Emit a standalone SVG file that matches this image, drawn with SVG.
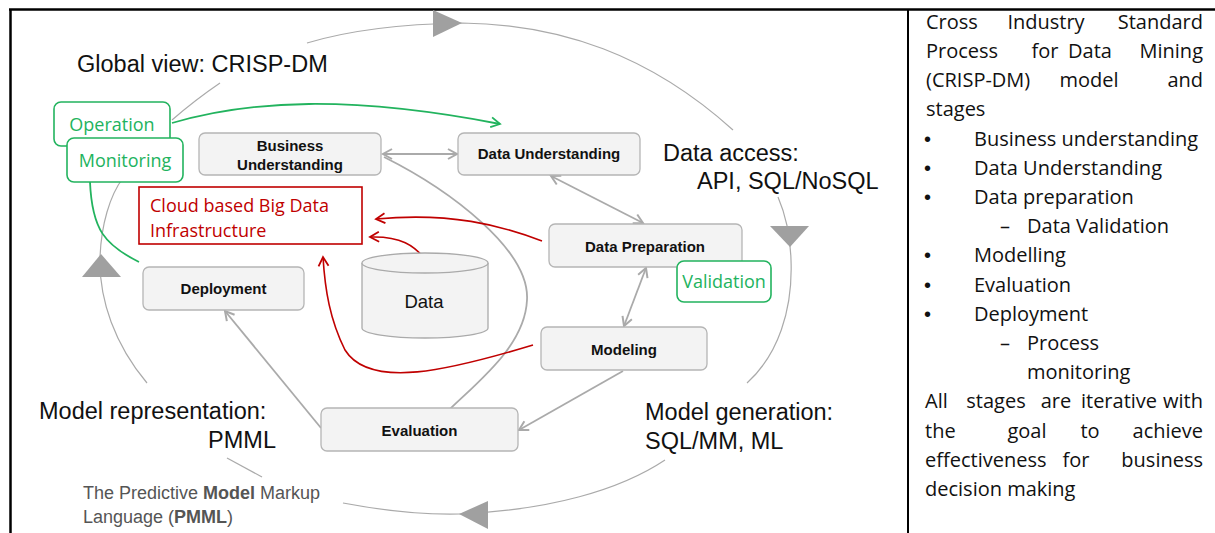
<svg xmlns="http://www.w3.org/2000/svg" width="1215" height="533" viewBox="0 0 1215 533">
<style>
.box{fill:#f3f3f3;stroke:#b5b5b5;stroke-width:1.3}
.bl{font-family:"Liberation Sans",Arial,sans-serif;font-weight:bold;font-size:15px;fill:#111;text-anchor:middle}
.big{font-family:"Liberation Sans",Arial,sans-serif;font-size:23.5px;fill:#111}
.gbox{fill:#fff;stroke:#22b35e;stroke-width:1.6}
.gt{font-family:"Open Sans",Lato,sans-serif;font-size:18px;fill:#22b35e;text-anchor:middle}
.rt{font-family:"Open Sans",Lato,sans-serif;font-size:18px;fill:#c00000}
.gc{fill:none;stroke:#aaa;stroke-width:1.8}
.arc{fill:none;stroke:#aaa;stroke-width:1.2}
.tri{fill:#a0a0a0}
.grn{fill:none;stroke:#22b35e;stroke-width:1.8}
.red{fill:none;stroke:#c00000;stroke-width:1.6}
.side{font-family:"Open Sans",Lato,sans-serif;font-size:20px;fill:#111}
.m{text-anchor:middle}
.e{text-anchor:end}
.bu{font-family:"Liberation Sans",Arial,sans-serif;font-size:20px;fill:#111}
</style>
<defs>
<marker id="ag" markerUnits="userSpaceOnUse" markerWidth="14" markerHeight="14" refX="10" refY="6" orient="auto-start-reverse" viewBox="0 0 14 12"><path d="M1,1 L10,6 L1,11" fill="none" stroke="#aaa" stroke-width="2"/></marker>
<marker id="agr" markerUnits="userSpaceOnUse" markerWidth="14" markerHeight="14" refX="10" refY="6" orient="auto" viewBox="0 0 14 12"><path d="M1,1 L10,6 L1,11" fill="none" stroke="#22b35e" stroke-width="1.8"/></marker>
<marker id="ar" markerUnits="userSpaceOnUse" markerWidth="14" markerHeight="14" refX="10" refY="6" orient="auto" viewBox="0 0 14 12"><path d="M1,1 L10,6 L1,11" fill="none" stroke="#c00000" stroke-width="1.8"/></marker>
</defs>
<rect width="1215" height="533" fill="#fff"/>
<g id="frame" stroke="#000" fill="none">
<line x1="9" y1="9.5" x2="1215" y2="9.5" stroke-width="2.5"/>
<line x1="10.5" y1="9" x2="10.5" y2="533" stroke-width="2.5"/>
<line x1="908" y1="9" x2="908" y2="533" stroke-width="2"/>
</g>
<g id="connectors">
<path class="arc" d="M307 43 C350 30, 400 24, 462 23 C560 24, 650 55, 733 130"/>
<path class="arc" d="M778 197 Q790 225 791 260 C793 310, 778 355, 747 383"/>
<path class="arc" d="M665 460 C620 490, 550 510, 460 514 C420 515, 380 510, 343 503"/>
<path class="arc" d="M147 383 C115 345, 99 300, 100 258 C101 225, 110 195, 123 178"/>
<path class="arc" d="M172 120 Q195 100 220 83"/>
<path class="arc" d="M227 458 L262 477"/>
<polygon class="tri" points="433,10 433,37 462,23"/>
<polygon class="tri" points="770,226 809,226 790,247"/>
<polygon class="tri" points="488,501 488,529 459,514"/>
<polygon class="tri" points="82,277 121,277 101,254"/>
<line class="gc" x1="383" y1="154" x2="457" y2="154" marker-start="url(#ag)" marker-end="url(#ag)"/>
<line class="gc" x1="551" y1="176" x2="643" y2="223" marker-start="url(#ag)" marker-end="url(#ag)"/>
<line class="gc" x1="646" y1="268" x2="624" y2="326" marker-start="url(#ag)" marker-end="url(#ag)"/>
<line class="gc" x1="623" y1="371" x2="519" y2="430" marker-end="url(#ag)"/>
<line class="gc" x1="321" y1="428" x2="225" y2="311" marker-end="url(#ag)"/>
<path class="gc" d="M450 409 C480 380, 525 345, 527 300 C530 250, 450 190, 384 157"/>
<path class="grn" d="M172 123 C250 100, 350 95, 500 124" marker-end="url(#agr)"/>
<path class="grn" d="M90 182 C92 230, 105 245, 139 262"/>
<path class="red" d="M542 241 C500 225, 450 212, 376 219" marker-end="url(#ar)"/>
<path class="red" d="M427 262 C415 245, 400 236, 370 237" marker-end="url(#ar)"/>
<path class="red" d="M533 345 C450 370, 370 390, 345 350 C330 320, 325 290, 323 257" marker-end="url(#ar)"/>
</g>
<g id="global-view"><text class="big" x="77" y="72">Global view: CRISP-DM</text></g>
<g id="data-access"><text class="big" x="663" y="161">Data access:</text><text class="big" x="697" y="189">API, SQL/NoSQL</text></g>
<g id="model-generation"><text class="big" x="645" y="420">Model generation:</text><text class="big" x="645" y="449">SQL/MM, ML</text></g>
<g id="model-representation"><text class="big" x="39" y="419">Model representation:</text><text class="big" x="276" y="448" text-anchor="end">PMML</text></g>
<g id="pmml-note" font-family="Liberation Sans, Arial, sans-serif" font-size="18" fill="#555">
<text x="83" y="499">The Predictive <tspan font-weight="bold">Model</tspan> Markup</text>
<text x="83" y="523">Language (<tspan font-weight="bold">PMML</tspan>)</text>
</g>
<g id="operation"><rect class="gbox" x="54" y="102" width="116" height="44" rx="7"/><text class="gt" x="112" y="131">Operation</text></g>
<g id="monitoring"><rect class="gbox" x="67" y="138" width="116" height="44" rx="7"/><text class="gt" x="125" y="167">Monitoring</text></g>
<g id="business-understanding"><rect class="box" x="199" y="133" width="182" height="42" rx="6"/><text class="bl" x="290" y="151">Business</text><text class="bl" x="290" y="170">Understanding</text></g>
<g id="data-understanding"><rect class="box" x="458" y="133" width="182" height="42" rx="6"/><text class="bl" x="549" y="159">Data Understanding</text></g>
<g id="cloud"><rect x="139" y="187" width="223" height="57" fill="#fff" stroke="#c00000" stroke-width="1.6"/><text class="rt" x="150" y="212">Cloud based Big Data</text><text class="rt" x="150" y="237">Infrastructure</text></g>
<g id="data-preparation"><rect class="box" x="549" y="224" width="193" height="43" rx="6"/><text class="bl" x="645" y="252">Data Preparation</text></g>
<g id="validation"><rect class="gbox" x="677" y="261" width="94" height="41" rx="7"/><text class="gt" x="724" y="288" font-size="16">Validation</text></g>
<g id="data"><path d="M362 263 L362 328 A63 10 0 0 0 488 328 L488 263" fill="#f3f3f3" stroke="#aaa" stroke-width="1.3"/><ellipse cx="425" cy="263" rx="63" ry="10" fill="#f3f3f3" stroke="#aaa" stroke-width="1.3"/><text x="424" y="308" font-family="Liberation Sans, Arial, sans-serif" font-size="18.5" fill="#111" text-anchor="middle">Data</text></g>
<g id="deployment"><rect class="box" x="143" y="267" width="161" height="43" rx="6"/><text class="bl" x="223.5" y="294">Deployment</text></g>
<g id="modeling"><rect class="box" x="541" y="327" width="166" height="43" rx="6"/><text class="bl" x="624" y="355">Modeling</text></g>
<g id="evaluation"><rect class="box" x="321" y="408" width="197" height="43" rx="6"/><text class="bl" x="419.5" y="436">Evaluation</text></g>
<g id="description">
<text class="side" x="926" y="29">Cross</text><text class="side m" x="1046" y="29">Industry</text><text class="side e" x="1203" y="29">Standard</text>
<text class="side" x="926" y="58">Process</text><text class="side m" x="1045" y="58">for</text><text class="side m" x="1090" y="58">Data</text><text class="side e" x="1203" y="58">Mining</text>
<text class="side" x="926" y="87">(CRISP-DM)</text><text class="side m" x="1089" y="87">model</text><text class="side e" x="1203" y="87">and</text>
<text class="side" x="926" y="116">stages</text>
<text class="bu" x="924" y="146">•</text><text class="side" x="974" y="146">Business understanding</text>
<text class="bu" x="924" y="175">•</text><text class="side" x="974" y="175">Data Understanding</text>
<text class="bu" x="924" y="204">•</text><text class="side" x="974" y="204">Data preparation</text>
<text class="side" x="1000" y="233">–</text><text class="side" x="1027" y="233">Data Validation</text>
<text class="bu" x="924" y="262">•</text><text class="side" x="974" y="262">Modelling</text>
<text class="bu" x="924" y="292">•</text><text class="side" x="974" y="292">Evaluation</text>
<text class="bu" x="924" y="321">•</text><text class="side" x="974" y="321">Deployment</text>
<text class="side" x="1000" y="350">–</text><text class="side" x="1027" y="350">Process</text>
<text class="side" x="1027" y="379">monitoring</text>
<text class="side" x="925" y="408">All</text><text class="side m" x="996" y="408">stages</text><text class="side m" x="1056" y="408">are</text><text class="side m" x="1119" y="408">iterative</text><text class="side e" x="1203" y="408">with</text>
<text class="side" x="925" y="438">the</text><text class="side m" x="1027" y="438">goal</text><text class="side m" x="1090" y="438">to</text><text class="side e" x="1203" y="438">achieve</text>
<text class="side" x="925" y="467">effectiveness</text><text class="side m" x="1076" y="467">for</text><text class="side e" x="1203" y="467">business</text>
<text class="side" x="925" y="496">decision making</text>
</g>
</svg>
